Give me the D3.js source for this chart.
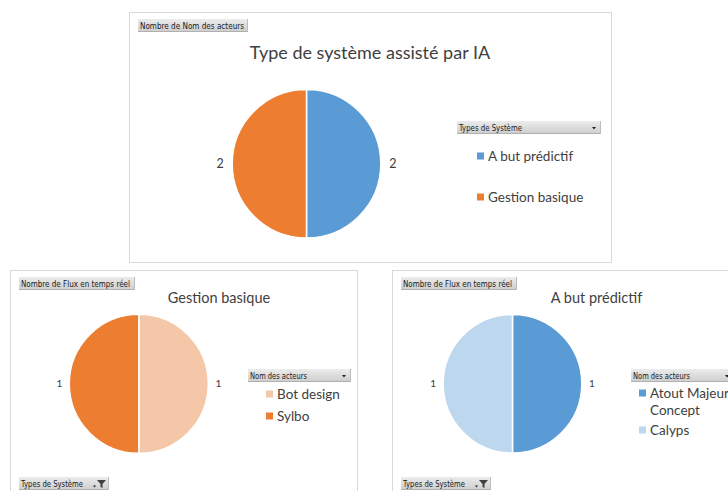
<!DOCTYPE html>
<html>
<head>
<meta charset="utf-8">
<script src="https://cdn.jsdelivr.net/npm/d3@7"></script>
<style>
  body { margin: 0; background: #fff; }
  svg { display: block; }
  .btn-text { font-family: "DejaVu Sans Condensed", "Liberation Sans Narrow", sans-serif; font-size: 9px; fill: #1a1a1a; }
  .title { font-family: Lato, "Open Sans", sans-serif; fill: #404040; }
  .lbl { font-family: Lato, "Open Sans", sans-serif; fill: #404040; }
</style>
</head>
<body>
<svg width="728" height="491"></svg>
<script>
// top chart: number of actors per system type
const systemTypes = ["A but prédictif", "Gestion basique"];
const actorCounts = [2, 2];

// bottom-left: real-time flows, "Gestion basique"
const gestionActors = ["Bot design", "Sylbo"];
const gestionFlows = [1, 1];

// bottom-right: real-time flows, "A but prédictif"
const predictifActors = ["Atout Majeur Concept", "Calyps"];
const predictifFlows = [1, 1];

document.addEventListener('DOMContentLoaded', function() {
    const svg = d3.select('svg');

    const defs = svg.append('defs');
    const grad = defs.append('linearGradient')
        .attr('id', 'btnGrad').attr('x1', 0).attr('y1', 0).attr('x2', 0).attr('y2', 1);
    grad.append('stop').attr('offset', '0%').attr('stop-color', '#ececec');
    grad.append('stop').attr('offset', '100%').attr('stop-color', '#cdcdcd');

    // pivot-style field button; tw = width the label is squeezed into
    function fieldButton(g, x, y, w, label, tw, icon) {
        const b = g.append('g').attr('transform', `translate(${x},${y})`);
        b.append('rect').attr('width', w).attr('height', 13).attr('fill', 'url(#btnGrad)');
        b.append('line').attr('x1', 0).attr('x2', w).attr('y1', 12.5).attr('y2', 12.5)
            .attr('stroke', '#b0b0b0');
        b.append('line').attr('x1', w - 0.5).attr('x2', w - 0.5).attr('y1', 0).attr('y2', 13)
            .attr('stroke', '#bdbdbd');
        b.append('text').attr('class', 'btn-text').attr('x', 2).attr('y', 9.5)
            .attr('textLength', tw)
            .attr('lengthAdjust', 'spacingAndGlyphs')
            .text(label);
        if (icon === 'arrow') {
            b.append('path').attr('d', `M${w - 9},6 L${w - 5},6 L${w - 7},8.5 Z`).attr('fill', '#222');
        } else if (icon === 'filter') {
            b.append('path').attr('d', `M${w - 16},8.5 L${w - 13},8.5 L${w - 14.5},10.5 Z`).attr('fill', '#222');
            b.append('path')
                .attr('d', `M${w - 12},3 L${w - 3},3 L${w - 6.5},7 L${w - 6.5},11 L${w - 8.5},10 L${w - 8.5},7 Z`)
                .attr('fill', '#404040');
        }
    }

    function drawPanel(cfg) {
        const g = svg.append('g');
        g.append('rect')
            .attr('x', cfg.box[0] + 0.5).attr('y', cfg.box[1] + 0.5)
            .attr('width', cfg.box[2]).attr('height', cfg.box[3])
            .attr('fill', '#fff').attr('stroke', '#d9d9d9');

        fieldButton(g, cfg.valueBtn[0], cfg.valueBtn[1], cfg.valueBtn[2], cfg.valueLabel, cfg.valueBtn[3], null);

        g.append('text').attr('class', 'title')
            .attr('x', cfg.title[0]).attr('y', cfg.title[1])
            .attr('text-anchor', 'middle')
            .style('font-size', cfg.titleSize + 'px')
            .text(cfg.titleText);

        const color = d3.scaleOrdinal().domain(cfg.names).range(cfg.colors);
        const pie = d3.pie().sort(null).value(d => d.value);
        const arc = d3.arc().innerRadius(0).outerRadius(cfg.r);
        const labelArc = d3.arc().innerRadius(cfg.r + cfg.labelOff).outerRadius(cfg.r + cfg.labelOff);
        const data = cfg.names.map((n, i) => ({ name: n, value: cfg.values[i] }));

        const pg = g.append('g').attr('transform', `translate(${cfg.center[0]},${cfg.center[1]})`);
        const arcs = pie(data);
        pg.selectAll('path').data(arcs).join('path')
            .attr('d', arc)
            .attr('fill', d => color(d.data.name))
            .attr('stroke', '#fff').attr('stroke-width', 1.5);
        pg.selectAll('text').data(arcs).join('text')
            .attr('class', 'lbl')
            .attr('transform', d => `translate(${labelArc.centroid(d)})`)
            .attr('text-anchor', 'middle').attr('dy', '0.35em')
            .style('font-size', cfg.labelSize + 'px')
            .text(d => d.data.value);

        fieldButton(g, cfg.legendBtn[0], cfg.legendBtn[1], cfg.legendBtn[2], cfg.legendLabel, cfg.legendBtn[3], 'arrow');

        // legend entries (names may wrap over two lines)
        let y = cfg.legendY;
        cfg.names.forEach((n, i) => {
            const lines = cfg.wrap && cfg.wrap[n] ? cfg.wrap[n] : [n];
            g.append('rect')
                .attr('x', cfg.legendX).attr('y', y - 3.5)
                .attr('width', 7).attr('height', 7)
                .attr('fill', color(n));
            lines.forEach((line, j) => {
                g.append('text').attr('class', 'lbl')
                    .attr('x', cfg.legendX + 11).attr('y', y + j * cfg.lineH)
                    .attr('dy', '0.35em')
                    .style('font-size', cfg.legendSize + 'px')
                    .text(line);
            });
            y += cfg.legendStep + (lines.length - 1) * cfg.lineH;
        });

        if (cfg.filterBtn) {
            fieldButton(g, cfg.filterBtn[0], cfg.filterBtn[1], cfg.filterBtn[2], 'Types de Système', cfg.filterBtn[3], 'filter');
        }
    }

    drawPanel({
        box: [129, 12, 482, 250],
        valueBtn: [138, 19, 110, 104], valueLabel: 'Nombre de Nom des acteurs',
        titleText: 'Type de système assisté par IA', title: [370, 59], titleSize: 18,
        names: systemTypes, values: actorCounts, colors: ['#5b9bd5', '#ed7d31'],
        center: [306.5, 163.7], r: 74.3, labelOff: 12, labelSize: 12.5,
        legendBtn: [457, 121, 144, 63], legendLabel: 'Types de Système',
        legendX: 477, legendY: 156, legendStep: 41, legendSize: 13.5, lineH: 16
    });

    drawPanel({
        box: [10, 270, 347, 230],
        valueBtn: [19, 277, 116, 109], valueLabel: 'Nombre de Flux en temps réel',
        titleText: 'Gestion basique', title: [219, 303], titleSize: 14.5,
        names: gestionActors, values: gestionFlows, colors: ['#f4c7a9', '#ed7d31'],
        center: [138.8, 383.8], r: 69.5, labelOff: 10, labelSize: 10,
        legendBtn: [248, 369, 103, 57], legendLabel: 'Nom des acteurs',
        legendX: 266, legendY: 394, legendStep: 22, legendSize: 13.5, lineH: 17,
        filterBtn: [19, 477, 90, 62]
    });

    drawPanel({
        box: [392, 270, 345, 230],
        valueBtn: [401, 277, 116, 109], valueLabel: 'Nombre de Flux en temps réel',
        titleText: 'A but prédictif', title: [596.5, 303], titleSize: 14.5,
        names: predictifActors, values: predictifFlows, colors: ['#5b9bd5', '#bdd7ee'],
        center: [512.5, 383.8], r: 69.3, labelOff: 10, labelSize: 10,
        legendBtn: [631, 369, 103, 57], legendLabel: 'Nom des acteurs',
        legendX: 639, legendY: 393, legendStep: 20, legendSize: 13.5, lineH: 17,
        wrap: { 'Atout Majeur Concept': ['Atout Majeur', 'Concept'] },
        filterBtn: [401, 477, 90, 62]
    });
});
</script>
</body>
</html>
